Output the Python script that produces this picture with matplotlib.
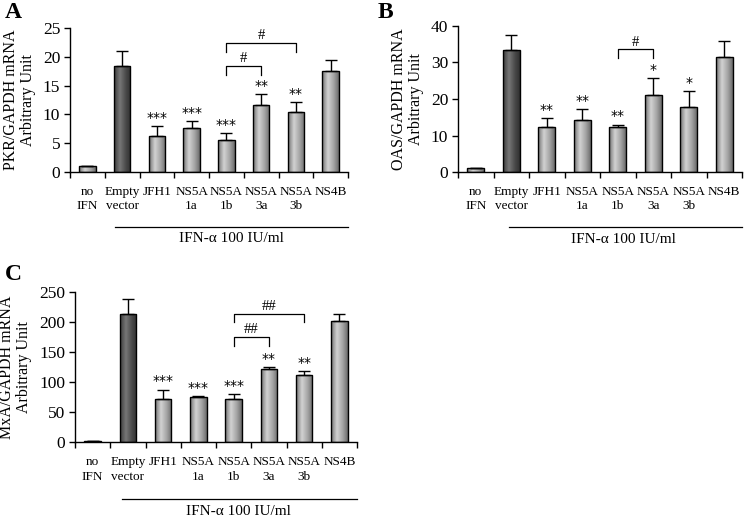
import numpy as np
import matplotlib
matplotlib.use("Agg")
import matplotlib.pyplot as plt
from matplotlib.colors import LinearSegmentedColormap
import matplotlib.transforms as mtrans

plt.rcParams['font.family'] = ['Liberation Serif', 'DejaVu Serif']

categories = ["no\nIFN", "Empty\nvector", "JFH1", "NS5A\n1a", "NS5A\n1b", "NS5A\n3a", "NS5A\n3b", "NS4B"]

pkr_vals = [1.0, 18.4, 6.3, 7.6, 5.5, 11.7, 10.5, 17.5]
pkr_err = [0.1, 2.6, 1.6, 1.3, 1.2, 1.9, 1.7, 2.0]
pkr_sig = ["", "", "***", "***", "***", "**", "**", ""]

oas_vals = [1.1, 33.4, 12.2, 14.3, 12.2, 21.0, 17.8, 31.6]
oas_err = [0.1, 4.2, 2.6, 2.9, 0.8, 4.7, 4.3, 4.2]
oas_sig = ["", "", "**", "**", "**", "*", "*", ""]

mxa_vals = [1.5, 213, 71.7, 74.4, 71.7, 122, 111, 202]
mxa_err = [0.5, 26, 15.5, 2.6, 7.7, 3.5, 6.8, 12]
mxa_sig = ["", "", "***", "***", "***", "**", "**", ""]

# brackets: (start idx, end idx, top value, drop value, label)
pkr_brackets = [(4, 5, 18.4, 16.9, "#"), (4, 6, 22.4, 20.8, "#")]
oas_brackets = [(4, 5, 33.6, 31.3, "#")]
mxa_brackets = [(4, 5, 175, 160, "##"), (4, 6, 214, 200, "##")]

dark_cmap = LinearSegmentedColormap.from_list(
    "dk", [(0, "#3a3a3a"), (0.35, "#777777"), (0.7, "#4a4a4a"), (1, "#303030")])
light_cmap = LinearSegmentedColormap.from_list(
    "lt", [(0, "#707070"), (0.35, "#d2d2d2"), (0.7, "#a4a4a4"), (1, "#6a6a6a")])

fig = plt.figure(figsize=(7.5, 5.24), dpi=100)

panels = [
    dict(rect=[70/750, 1-172/524, 278/750, 144/524], vals=pkr_vals, err=pkr_err, sig=pkr_sig,
         br=pkr_brackets, ylim=25, step=5, ylabel="PKR/GAPDH mRNA\nArbitrary Unit",
         letter="A", lx=5/750, ly=1-12/524, line_x0=0.8),
    dict(rect=[458/750, 1-172/524, 284/750, 146/524], vals=oas_vals, err=oas_err, sig=oas_sig,
         br=oas_brackets, ylim=40, step=10, ylabel="OAS/GAPDH mRNA\nArbitrary Unit",
         letter="B", lx=378/750, ly=1-12/524, line_x0=0.95),
    dict(rect=[75/750, 1-442/524, 282/750, 150/524], vals=mxa_vals, err=mxa_err, sig=mxa_sig,
         br=mxa_brackets, ylim=250, step=50, ylabel="MxA/GAPDH mRNA\nArbitrary Unit",
         letter="C", lx=5/750, ly=1-275/524, line_x0=0.83),
]

grad = np.linspace(0, 1, 256).reshape(1, -1)
x = np.arange(len(categories))

for p in panels:
    ax = fig.add_axes(p["rect"])
    bars = ax.bar(x, p["vals"], width=0.47, color="none", edgecolor="black", linewidth=1.0, zorder=3)
    for i, b in enumerate(bars):
        bx, by = b.get_x(), b.get_y()
        bw, bh = b.get_width(), b.get_height()
        cmap = dark_cmap if i == 1 else light_cmap
        im = ax.imshow(grad, cmap=cmap, aspect="auto", extent=[bx, bx + bw, by, by + bh],
                       zorder=2, interpolation="bilinear")
        im.set_clip_path(b)
    ax.errorbar(x, p["vals"], yerr=[np.zeros(len(x)), p["err"]], fmt="none",
                ecolor="black", elinewidth=1.0, capsize=4, capthick=1.0, zorder=4)
    ym = p["ylim"]
    for i, s in enumerate(p["sig"]):
        if s:
            ax.text(x[i], p["vals"][i] + p["err"][i] + ym * 0.008, s, ha="center", va="bottom",
                    fontsize=10, fontfamily="DejaVu Sans", zorder=5)
    for (a, bb, top, drop, lab) in p["br"]:
        ax.plot([x[a], x[a], x[bb], x[bb]], [drop, top, top, drop], color="black", lw=0.9,
                clip_on=False, zorder=5)
        ax.text((x[a] + x[bb]) / 2, top + ym * 0.005, lab, ha="center", va="bottom", fontsize=10.5)
    ax.set_xlim(-0.5, len(categories) - 0.5)
    ax.set_ylim(0, ym)
    ax.set_yticks(np.arange(0, ym + 0.01, p["step"]))
    ax.set_xticks(np.arange(-0.5, len(categories)), minor=False)
    ax.set_xticklabels([])
    ax.tick_params(axis="x", direction="out", length=4, width=1)
    ax.tick_params(axis="y", direction="out", length=4, width=1, labelsize=12.5, pad=3)
    for sp in ["top", "right"]:
        ax.spines[sp].set_visible(False)
    for sp in ["left", "bottom"]:
        ax.spines[sp].set_linewidth(1.0)
    tr = mtrans.blended_transform_factory(ax.transData, ax.transAxes)
    for i, c in enumerate(categories):
        ax.text(x[i], -0.095, c, transform=tr, ha="center", va="top", fontsize=9.5,
                linespacing=1.25)
    ax.plot([p["line_x0"], 7.5], [-0.38, -0.38], transform=tr, color="black", lw=0.9, clip_on=False)
    ax.text(4.15, -0.42, "IFN-\u03b1 100 IU/ml", transform=tr, ha="center", va="top", fontsize=11)
    ax.set_ylabel(p["ylabel"], fontsize=11.5, linespacing=1.1, labelpad=5)
    fig.text(p["lx"], p["ly"], p["letter"], fontsize=17, fontweight="bold", ha="left", va="center")

fig.savefig("out.png", dpi=100)
